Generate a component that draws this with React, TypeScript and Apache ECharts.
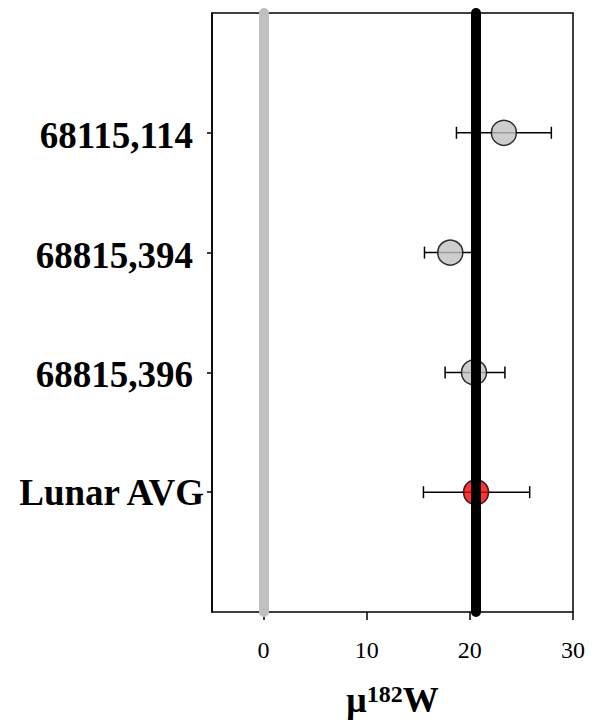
import React, { useEffect, useRef } from "react";
import * as echarts from "echarts";

const samples = ["68115,114", "68815,394", "68815,396", "Lunar AVG"];
const means = [23.3, 18.1, 20.4, 20.6];
const lows = [18.7, 15.6, 17.6, 15.5];
const highs = [27.9, 20.6, 23.4, 25.8];
const markerColors = ["#c0c0c0", "#c0c0c0", "#c0c0c0", "#ff0000"];
const xTicks = [0, 10, 20, 30];
const refLines = [
  { value: 0, color: "#c0c0c0" },
  { value: 20.6, color: "#000000" },
];

const FONT = "'Liberation Serif', 'Times New Roman', serif";

export default function App() {
  const ref = useRef<HTMLDivElement>(null);
  useEffect(() => {
    if (!ref.current) return;
    const chart = echarts.init(ref.current, null, { renderer: "svg" });
    const yCats = ["", ...samples, " "];
    const errData = samples.map((_, i) => [lows[i], highs[i], i + 1]);
    const ptData = samples.map((_, i) => ({
      value: [means[i], i + 1],
      itemStyle: { color: markerColors[i], borderColor: "#000", borderWidth: 1.5 },
    }));
    const labelBase = { fontFamily: FONT, fontSize: 37, fontWeight: "bold", color: "#000" };
    chart.setOption({
      animation: false,
      grid: {
        left: 212,
        right: 23,
        top: 13,
        bottom: 105,
        show: true,
        borderColor: "#000",
        borderWidth: 1.5,
        backgroundColor: "transparent",
      },
      xAxis: {
        type: "value",
        min: -5,
        max: 30,
        interval: 5,
        splitLine: { show: false },
        axisLine: { onZero: false, lineStyle: { color: "#000", width: 1.5 } },
        axisTick: { show: true, length: 8, customValues: xTicks, lineStyle: { color: "#000", width: 1.5 } },
        axisLabel: {
          customValues: xTicks,
          margin: 26,
          fontFamily: FONT,
          fontSize: 24,
          color: "#000",
        },
        name: "{a|μ}{s|182}{a|W}",
        nameLocation: "middle",
        nameGap: 70,
        nameTextStyle: {
          rich: {
            a: { fontFamily: FONT, fontSize: 36, fontWeight: "bold", color: "#000", verticalAlign: "bottom" },
            s: { fontFamily: FONT, fontSize: 24, fontWeight: "bold", color: "#000", verticalAlign: "top" },
          },
        },
      },
      yAxis: {
        type: "category",
        data: yCats,
        inverse: true,
        boundaryGap: false,
        splitLine: { show: false },
        axisLine: { onZero: false, lineStyle: { color: "#000", width: 1.5 } },
        axisTick: {
          show: true,
          length: 5,
          interval: (i: number) => i > 0 && i < yCats.length - 1,
          lineStyle: { color: "#000", width: 1.5 },
        },
        axisLabel: {
          interval: 0,
          margin: 8,
          formatter: (v: string) => {
            if (!v.trim()) return "";
            return /^[0-9]/.test(v) ? `{n|${v}}` : `{l|${v}}`;
          },
          rich: {
            n: { ...labelBase, padding: [5, 11, 0, 0] },
            l: { ...labelBase },
          },
        },
      },
      series: [
        {
          type: "custom",
          z: 1,
          data: errData,
          renderItem: (params: any, api: any) => {
            const lo = api.coord([api.value(0), api.value(2)]);
            const hi = api.coord([api.value(1), api.value(2)]);
            const cap = 6;
            const style = { stroke: "#000", lineWidth: 1.5 };
            return {
              type: "group",
              children: [
                { type: "line", shape: { x1: lo[0], y1: lo[1], x2: hi[0], y2: hi[1] }, style },
                { type: "line", shape: { x1: lo[0], y1: lo[1] - cap, x2: lo[0], y2: lo[1] + cap }, style },
                { type: "line", shape: { x1: hi[0], y1: hi[1] - cap, x2: hi[0], y2: hi[1] + cap }, style },
              ],
            };
          },
        },
        {
          type: "line",
          z: 2,
          data: [],
          markLine: {
            silent: true,
            symbol: ["none", "none"],
            label: { show: false },
            data: refLines.map((r) => ({
              xAxis: r.value,
              lineStyle: { color: r.color, width: 10, type: "solid", cap: "round" },
            })),
          },
        },
        {
          type: "scatter",
          z: 3,
          symbol: "circle",
          symbolSize: 25,
          data: ptData,
        },
      ],
    });
    return () => chart.dispose();
  }, []);
  return (
    <div
      ref={ref}
      style={{ position: "fixed", left: 0, top: 0, width: 596, height: 723, background: "#fff" }}
    />
  );
}
